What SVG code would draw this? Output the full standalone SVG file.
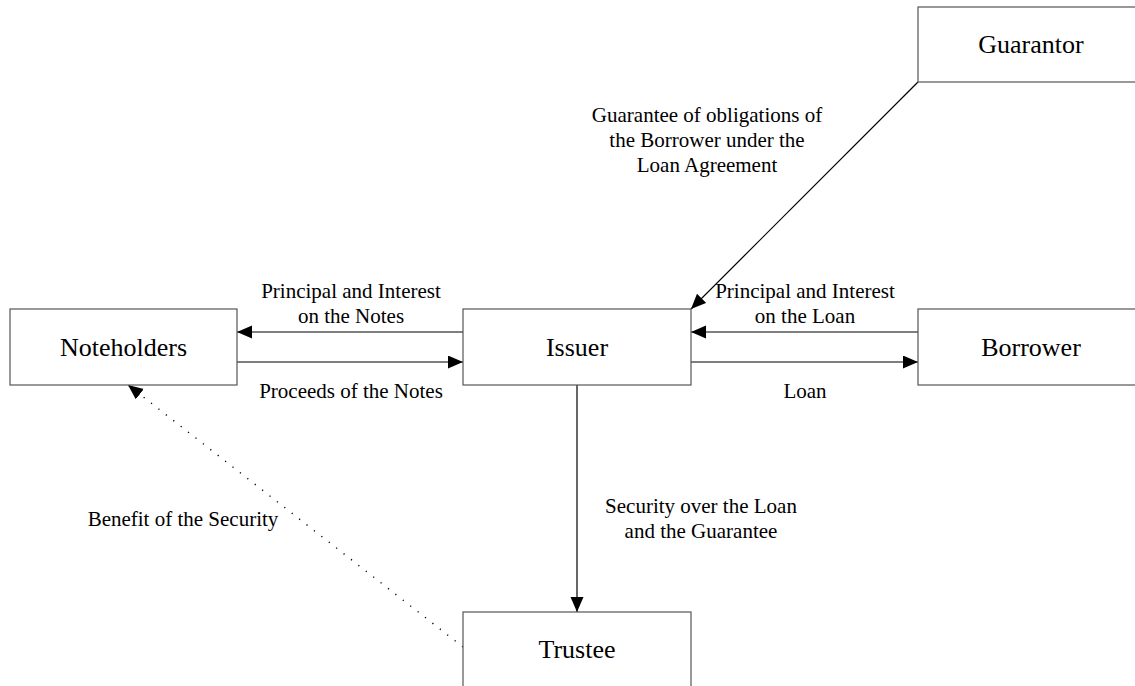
<svg xmlns="http://www.w3.org/2000/svg" width="1135" height="686" viewBox="0 0 1135 686">
<style>
.box{fill:#fff;stroke:#555;stroke-width:1.2}
.node{font-family:"Liberation Serif","Times New Roman",serif;font-size:26px;fill:#000;text-anchor:middle}
.lbl{font-family:"Liberation Serif","Times New Roman",serif;font-size:21px;fill:#000;text-anchor:middle}
.ln{stroke:#000;stroke-width:1.2;fill:none}
.dot{stroke:#000;stroke-width:1.4;fill:none;stroke-dasharray:1.2 8.2}
</style>
<defs>
<marker id="ah" markerUnits="userSpaceOnUse" markerWidth="16" markerHeight="14" refX="15" refY="6.5" orient="auto">
<path d="M0,0 L15,6.5 L0,13 z" fill="#000"/>
</marker>
</defs>
<rect width="1135" height="686" fill="#fff"/>
<g id="connectors">
<line class="ln" x1="463" y1="332" x2="237" y2="332" marker-end="url(#ah)"/>
<line class="ln" x1="237" y1="362" x2="463" y2="362" marker-end="url(#ah)"/>
<line class="ln" x1="918" y1="332" x2="691" y2="332" marker-end="url(#ah)"/>
<line class="ln" x1="691" y1="362" x2="918" y2="362" marker-end="url(#ah)"/>
<line class="ln" x1="577" y1="385" x2="577" y2="612" marker-end="url(#ah)"/>
<line class="ln" x1="918" y1="82" x2="691" y2="309" marker-end="url(#ah)"/>
<line class="dot" x1="463" y1="647" x2="128" y2="385" marker-end="url(#ah)"/>
<text class="lbl" x="351" y="298">Principal and Interest</text>
<text class="lbl" x="351" y="323">on the Notes</text>
<text class="lbl" x="351" y="398">Proceeds of the Notes</text>
<text class="lbl" x="805" y="298">Principal and Interest</text>
<text class="lbl" x="805" y="323">on the Loan</text>
<text class="lbl" x="805" y="398">Loan</text>
<text class="lbl" x="707" y="122">Guarantee of obligations of</text>
<text class="lbl" x="707" y="147">the Borrower under the</text>
<text class="lbl" x="707" y="172">Loan Agreement</text>
<text class="lbl" x="701" y="513">Security over the Loan</text>
<text class="lbl" x="701" y="538">and the Guarantee</text>
<text class="lbl" x="183" y="526">Benefit of the Security</text>
</g>
<g id="noteholders">
<rect class="box" x="10" y="309" width="227" height="76"/>
<text class="node" x="123.5" y="355.5">Noteholders</text>
</g>
<g id="issuer">
<rect class="box" x="463" y="309" width="228" height="76"/>
<text class="node" x="577" y="355.5">Issuer</text>
</g>
<g id="borrower">
<rect class="box" x="918" y="309" width="226" height="76"/>
<text class="node" x="1031" y="355.5">Borrower</text>
</g>
<g id="guarantor">
<rect class="box" x="918" y="7" width="226" height="75"/>
<text class="node" x="1031" y="53">Guarantor</text>
</g>
<g id="trustee">
<rect class="box" x="463" y="612" width="228" height="90"/>
<text class="node" x="577" y="658">Trustee</text>
</g>
</svg>
